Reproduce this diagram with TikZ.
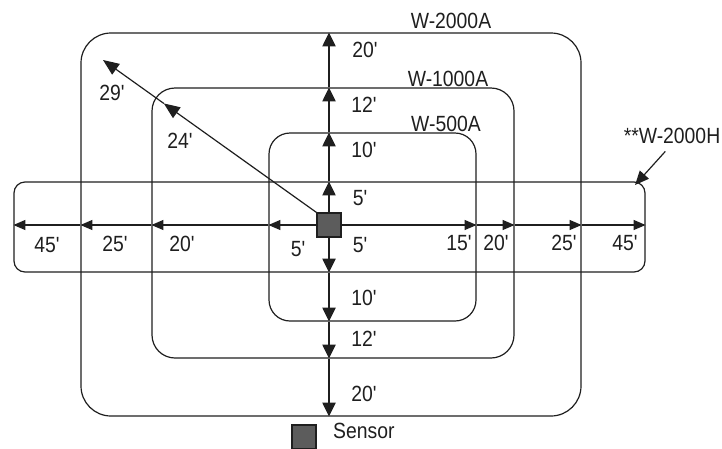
\documentclass[tikz,border=0pt]{standalone}
\usepackage{fontspec}
\setmainfont{Liberation Sans}[Ligatures=TeXOff]
\newfontfamily\narrowfont{Liberation Sans}[Ligatures=TeXOff, FakeStretch=0.88]
\usetikzlibrary{arrows.meta,calc}

\definecolor{inkgray}{gray}{0.12}
\definecolor{sensorgray}{gray}{0.36}

\begin{document}
\begin{tikzpicture}[x=1pt, y=-1pt,
    zone/.style={draw=inkgray, line width=1.2pt, inner sep=0pt},
    sensor/.style={draw=inkgray, fill=sensorgray, line width=1.2pt, minimum size=24pt, inner sep=0pt},
    dist/.style={font=\narrowfont\fontsize{22}{24}\selectfont, inner sep=0pt, text=inkgray},
    reach/.style={draw=inkgray, line width=2.2pt, -{Triangle[length=14pt,width=13pt]}},
    span/.style={draw=inkgray, line width=1.2pt, -{Triangle[length=12pt,width=10pt]}},
    ray/.style={draw=inkgray, line width=1.2pt, -{Triangle[length=16pt,width=13pt]}}]
    \useasboundingbox (0, 0) rectangle (722, 448);

    % coverage zones
    \node[zone, rounded corners=30pt, minimum width=500pt, minimum height=383pt] (a2000) at (331, 224.5) {};
    \node[zone, rounded corners=23pt, minimum width=362pt, minimum height=270pt] (a1000) at (333, 223) {};
    \node[zone, rounded corners=21pt, minimum width=207pt, minimum height=188pt] (a500) at (372.5, 227) {};
    \node[zone, rounded corners=11pt, minimum width=631pt, minimum height=90pt] (h2000) at (329.5, 227) {};

    \node[sensor] (sensor) at (329, 225) {};

    % up / down
    \draw[reach] (sensor.north) -- (sensor |- h2000.north);
    \draw[reach] (sensor |- h2000.north) -- (sensor |- a500.north);
    \draw[reach] (sensor |- a500.north) -- (sensor |- a1000.north);
    \draw[reach] (sensor |- a1000.north) -- (sensor |- a2000.north);

    \draw[reach] (sensor.south) -- (sensor |- h2000.south);
    \draw[reach] (sensor |- h2000.south) -- (sensor |- a500.south);
    \draw[reach] (sensor |- a500.south) -- (sensor |- a1000.south);
    \draw[reach] (sensor |- a1000.south) -- (sensor |- a2000.south);

    % left / right
    \draw[span] (sensor.west) -- (sensor -| a500.west);
    \draw[span] (sensor -| a500.west) -- (sensor -| a1000.west);
    \draw[span] (sensor -| a1000.west) -- (sensor -| a2000.west);
    \draw[span] (sensor -| a2000.west) -- (sensor -| h2000.west);

    \draw[span] (sensor.east) -- (sensor -| a500.east);
    \draw[span] (sensor -| a500.east) -- (sensor -| a1000.east);
    \draw[span] (sensor -| a1000.east) -- (sensor -| a2000.east);
    \draw[span] (sensor -| a2000.east) -- (sensor -| h2000.east);

    % diagonal
    \coordinate (d29) at (103, 60);
    \coordinate (d24) at ($(sensor.north west)!0.715!(d29)$);
    \draw[ray] (sensor.north west) -- (d24);
    \draw[ray] (d24) -- (d29);

    % zone names
    \node[dist] (n2000a) at (451, 21) {W-2000A};
    \node[dist] (n1000a) at (448, 79) {W-1000A};
    \node[dist] (n500a) at (446, 124) {W-500A};
    \node[dist] (n2000h) at (672, 136) {**W-2000H};
    \coordinate (hcorner) at (635, 185);
    \draw[draw=inkgray, line width=1.2pt, shorten <=10pt, -{Triangle[length=14pt,width=12pt]}] (n2000h.south) -- (hcorner);

    % distances
    \node[dist] (u20) at (365, 50) {20'};
    \node[dist] (u12) at (364, 105) {12'};
    \node[dist] (u10) at (364, 150) {10'};
    \node[dist] (u5) at (360, 198) {5'};

    \node[dist] (d5) at (360, 245) {5'};
    \node[dist] (d10) at (364, 298) {10'};
    \node[dist] (d12) at (364, 339) {12'};
    \node[dist] (d20) at (364, 394) {20'};

    \node[dist] (l45) at (47, 245) {45'};
    \node[dist] (l25) at (115, 244) {25'};
    \node[dist] (l20) at (182, 244) {20'};
    \node[dist] (l5) at (298, 249) {5'};

    \node[dist] (r15) at (459, 243) {15'};
    \node[dist] (r20) at (496, 243) {20'};
    \node[dist] (r25) at (564, 243) {25'};
    \node[dist] (r45) at (625, 243) {45'};

    \node[dist] (t29) at (112, 93) {29'};
    \node[dist] (t24) at (180, 141) {24'};

    % legend
    \node[sensor] (legend) at (304, 437) {};
    \node[dist, anchor=west] (legendtext) at (333, 431) {Sensor};
\end{tikzpicture}
\end{document}
